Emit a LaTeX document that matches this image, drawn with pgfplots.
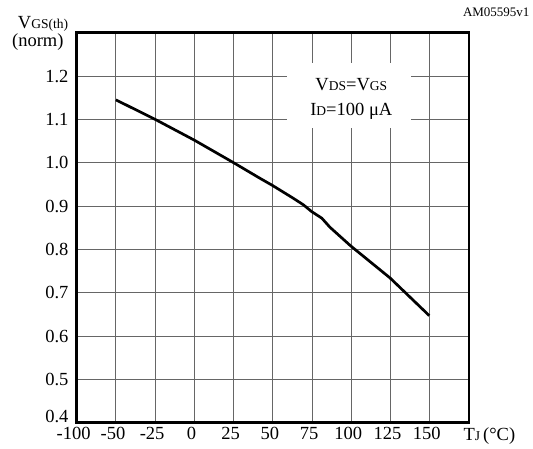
\documentclass[border=0pt]{standalone}
\usepackage{pgfplots}
\pgfplotsset{compat=1.18}
\usepackage{fontspec}
\setmainfont{Liberation Serif}
\newcommand\bg{\fontsize{18.5}{20}\selectfont}
\newcommand\sm{\fontsize{13.5}{14}\selectfont}
\begin{document}
\begin{tikzpicture}
\begin{axis}[
  scale only axis,
  width=392.3pt, height=390pt,
  at={(0,0)}, anchor=south west,
  xmin=-75, xmax=175, ymin=0.4, ymax=1.3,
  xtick={-75,-50,-25,0,25,50,75,100,125,150},
  xticklabels={-100,-50,-25,0,25,50,75,100,125,150},
  ytick={0.5,0.6,0.7,0.8,0.9,1.0,1.1,1.2},
  yticklabels={0.5,0.6,0.7,0.8,0.9,1.0,1.1,1.2},
  extra y ticks={0.4},
  extra y tick labels={0.4},
  extra y tick style={yticklabel style={yshift=6pt}, grid=none},
  major tick length=0pt,
  grid=major,
  major grid style={black!60, line width=0.9pt},
  axis line style={line width=2.5pt},
  xticklabel style={font=\bg, inner sep=0pt, anchor=north, yshift=-4pt, xshift=-3pt},
  yticklabel style={font=\bg, inner sep=0pt, anchor=east, xshift=-8pt},
  clip=false,
]
\fill[white] (axis cs:59.2,1.079) rectangle (axis cs:138,1.229);
\addplot[black, line width=2.7pt, line join=round] coordinates {
(-50,1.145) (-25,1.100) (0,1.052) (25,1.000) (41.8,0.964) (50,0.947)
(63,0.918) (69.4,0.903) (74.8,0.887) (81.2,0.872) (86.4,0.851)
(99.6,0.808) (124.7,0.734) (149.7,0.647)
};
\node[anchor=base, inner sep=0pt] at (axis cs:100,1.166) {\bg V{\sm DS}=V{\sm GS}};
\node[anchor=base, inner sep=0pt] at (axis cs:100,1.110) {\bg I{\sm D}=100 μA};
\end{axis}
\node[anchor=base east, inner sep=0pt] at (-8.4pt,394.4pt) {\bg V{\sm GS(th)}};
\node[anchor=base east, inner sep=0pt] at (-13pt,376pt) {\bg (norm)};
\node[anchor=base east, inner sep=0pt] at (453pt,406pt) {\fontsize{13}{14}\selectfont AM05595v1};
\node[anchor=base west, inner sep=0pt] at (386.6pt,-17.3pt) {\bg T{\sm J}\,(°C)};
\pgfresetboundingbox
\useasboundingbox (-76.7pt,-25.3pt) rectangle (456.3pt,422.7pt);
\end{tikzpicture}
\end{document}
